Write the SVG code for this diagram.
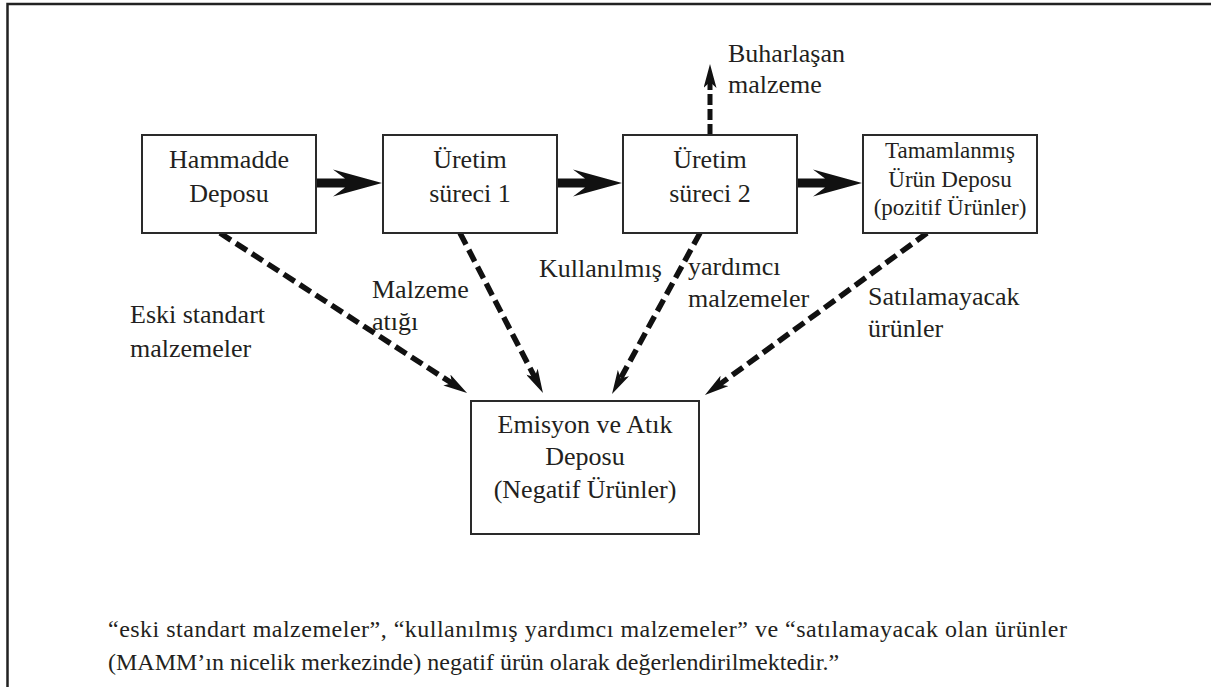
<svg xmlns="http://www.w3.org/2000/svg" width="1211" height="687" viewBox="0 0 1211 687">
  <style>
    text { font-family: 'Liberation Serif', 'Times New Roman', serif; fill: #231f20; }
    .box { fill: #fff; stroke: #2a2a2a; stroke-width: 2; }
    .t { font-size: 26px; }
    .ts { font-size: 23px; }
    .tb { font-size: 24px; }
    .mid { text-anchor: middle; }
    .dash { fill: none; stroke: #111; stroke-width: 5.5; stroke-dasharray: 13 6; marker-end: url(#dhead); }
    .vdash { fill: none; stroke: #111; stroke-width: 5; stroke-dasharray: 11 4; marker-end: url(#dhead); }
    .fat { fill: #111; }
  </style>
  <defs>
    <marker id="dhead" viewBox="0 0 24 13" markerUnits="userSpaceOnUse" markerWidth="24" markerHeight="13" refX="8" refY="6.5" orient="auto">
      <path d="M0,0 L24,6.5 L0,13 L6,6.5 z" fill="#111"/>
    </marker>
    <path id="fatarrow" d="M0,-4.5 H28 L16,-13.5 L65,0 L16,13.5 L28,4.5 H0 z"/>
  </defs>

  <rect width="1211" height="687" fill="#fff"/>
  <path d="M7.5,687 V4 H1211" fill="none" stroke="#222" stroke-width="2.5"/>

  <g id="connectors">
    <use href="#fatarrow" class="fat" x="317" y="183"/>
    <use href="#fatarrow" class="fat" x="557" y="183"/>
    <use href="#fatarrow" class="fat" x="797" y="183"/>
    <path class="vdash" d="M710,135 V80"/>
    <path class="dash" d="M220,233 L453.6,384.3"/>
    <path class="dash" d="M460,233 L535.6,378.8"/>
    <path class="dash" d="M700,233 L619.7,380"/>
    <path class="dash" d="M927,233 L717.9,385.6"/>
  </g>

  <g id="labels">
    <text class="t" x="728" y="62">Buharlaşan</text>
    <text class="t" x="728" y="93">malzeme</text>
    <text class="t" x="130" y="323">Eski standart</text>
    <text class="t" x="130" y="357">malzemeler</text>
    <text class="t" x="372" y="298">Malzeme</text>
    <text class="t" x="372" y="330">atığı</text>
    <text class="t" x="539" y="277">Kullanılmış</text>
    <text class="t" x="688" y="275">yardımcı</text>
    <text class="t" x="688" y="307">malzemeler</text>
    <text class="t" x="868" y="305">Satılamayacak</text>
    <text class="t" x="868" y="337">ürünler</text>
  </g>

  <g id="hammadde">
    <rect class="box" x="142" y="135" width="174" height="98"/>
    <text class="t mid" x="229" y="168">Hammadde</text>
    <text class="t mid" x="229" y="202">Deposu</text>
  </g>
  <g id="uretim1">
    <rect class="box" x="383" y="135" width="174" height="98"/>
    <text class="t mid" x="470" y="168">Üretim</text>
    <text class="t mid" x="470" y="202">süreci 1</text>
  </g>
  <g id="uretim2">
    <rect class="box" x="623" y="135" width="174" height="98"/>
    <text class="t mid" x="710" y="168">Üretim</text>
    <text class="t mid" x="710" y="202">süreci 2</text>
  </g>
  <g id="tamamlanmis">
    <rect class="box" x="863" y="135" width="174" height="98"/>
    <text class="ts mid" x="950" y="158">Tamamlanmış</text>
    <text class="ts mid" x="950" y="187">Ürün Deposu</text>
    <text class="ts mid" x="950" y="215">(pozitif Ürünler)</text>
  </g>
  <g id="emisyon">
    <rect class="box" x="471" y="401" width="228" height="133"/>
    <text class="t mid" x="585" y="433">Emisyon ve Atık</text>
    <text class="t mid" x="585" y="465">Deposu</text>
    <text class="t mid" x="585" y="498">(Negatif Ürünler)</text>
  </g>

  <g id="note">
    <text class="tb" x="108" y="637" textLength="959" lengthAdjust="spacing">“eski standart malzemeler”, “kullanılmış yardımcı malzemeler” ve “satılamayacak olan ürünler</text>
    <text class="tb" x="108" y="670">(MAMM’ın nicelik merkezinde) negatif ürün olarak değerlendirilmektedir.”</text>
  </g>
</svg>
